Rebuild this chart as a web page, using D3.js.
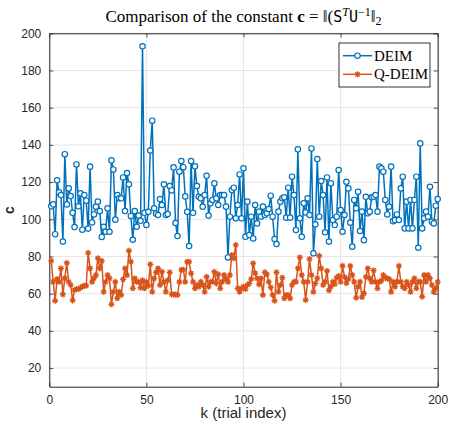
<!DOCTYPE html>
<html>
<head>
<meta charset="utf-8">
<script src="https://cdn.jsdelivr.net/npm/d3@7"></script>
<style>
  body { margin: 0; background: #fff; }
  svg { display: block; }
</style>
</head>
<body>
<svg id="my-svg" width="450" height="424"></svg>
<script>
// trial index k = 1..200
const trialIndex = d3.range(1, 201);

const deimValues = [
  107, 108, 92, 121, 114.5, 113, 88, 135, 108, 116.6, 112.5, 103.5, 95.8, 129.5, 107, 114, 94.4, 113, 110, 95,
  128.3, 98.3, 102.6, 106.8, 109.5, 104.4, 90.5, 96, 93.3, 105.9, 93.3, 131.7, 126.8, 99.8, 113, 111.3, 111.3, 122.5, 104.4, 124.9,
  118.8, 101.8, 89, 104.4, 96, 102, 99.2, 193, 103.5, 97, 104, 137, 153, 105.9, 103, 102.3, 110.9, 107.7, 118.8, 102.3,
  102.8, 117.9, 115.5, 127.9, 98, 91, 125.6, 131.3, 128, 112.3, 104, 85.6, 131.3, 103.5, 128.5, 117.9, 112.1, 111.3, 106.8, 113,
  123.4, 102, 108.6, 110.4, 119.3, 111.3, 107.7, 113, 113, 113, 106.8, 79.5, 101.4, 115.7, 117, 100.5, 107.7, 124.1, 100.5, 127.4,
  90.6, 109.5, 91.5, 101.4, 89.7, 107.7, 97.8, 104.1, 101.4, 106.8, 102.3, 103.2, 105.5, 112.7, 101.4, 89.4, 86.7, 104.1, 109.5, 111.3,
  111.8, 100.9, 117, 100.9, 122.9, 113, 94.2, 137.6, 100.5, 90.6, 108.6, 103.7, 111.3, 102.3, 138.1, 81.7, 97.3, 132.4, 101.4, 120.6,
  113, 93, 122.5, 88, 119.3, 99.6, 96.9, 101.4, 126.5, 105, 93.3, 102.3, 120.2, 116.6, 98.2, 85.3, 110.4, 105.9, 114.8, 93.7,
  104.1, 88.8, 112.1, 103.2, 104.1, 111.8, 112.1, 113, 104.1, 128.3, 127.4, 125.6, 110.4, 102.6, 106.8, 128.3, 99, 99.6, 102.6, 99.6,
  116.6, 122.9, 95.1, 109.5, 95.1, 110.4, 95.1, 110.4, 122.9, 84.7, 140.8, 95.1, 100.5, 104.1, 101.4, 117.5, 98.7, 97.8, 107.3, 110.9
];

const qdeimValues = [
  77.7, 66.4, 56.2, 67.9, 66.4, 73.6, 59.6, 68.2, 76.5, 66.4, 64.7, 56.4, 62, 62.5, 62.5, 63.2, 63.8, 64.3, 64.3, 82,
  73.6, 66.4, 68.2, 70, 79, 73.6, 77.6, 61, 66.4, 70, 68.2, 54.3, 61, 66.4, 57.5, 61, 59.3, 67.7, 73.6, 70,
  83.1, 77.2, 62.9, 68.2, 66.4, 66.4, 63.2, 67.2, 62.9, 66.4, 64.3, 75.8, 61, 68.2, 71.5, 73.6, 64.7, 71.8, 66.4, 61,
  67.2, 71.5, 59.6, 59.6, 59.6, 59.3, 66.4, 72.9, 72.9, 66.4, 77.2, 77.2, 70.9, 66.4, 62.9, 64.7, 63.8, 66.4, 64.7, 61,
  69.1, 63.8, 66.4, 66.4, 71.8, 65.5, 70.4, 62.9, 66.4, 70, 67.9, 66.4, 70, 80.8, 79, 86.2, 62.9, 61, 62.9, 63.8,
  62.5, 64.7, 65.5, 67.9, 76.3, 71.1, 68.2, 65, 68.2, 59.3, 71.5, 70.4, 66.4, 63.4, 59.3, 56.2, 71.5, 61, 64.7, 68.6,
  57.5, 59.3, 59.3, 57.5, 64.7, 66.4, 66.4, 73.6, 79.5, 70, 66.4, 56.6, 66.4, 78.6, 70, 61, 65.5, 68.2, 80.4, 73.6,
  64.7, 66.4, 72.2, 61.8, 63.8, 66.4, 65.2, 68.6, 69.5, 66.4, 75, 69, 65.7, 67.9, 75, 70, 66.4, 57.8, 63.8, 66.4,
  58.2, 60.2, 69, 73.6, 68.2, 66.4, 72.5, 66.4, 62.9, 66.4, 67, 70, 68.6, 68.2, 67.9, 61, 66.4, 63.8, 66.4, 75,
  66.4, 63.8, 62.9, 66.4, 64.7, 61, 66.4, 68.2, 62.9, 66.4, 66.4, 58.4, 70, 66.4, 70, 68.2, 64.7, 61, 62.9, 66.4
];

const xTickValues = [0, 50, 100, 150, 200];
const yTickValues = [20, 40, 60, 80, 100, 120, 140, 160, 180, 200];
const seriesNames = ['DEIM', 'Q-DEIM'];

const svg = d3.select('#my-svg');
const margin = {top: 33.3, right: 12.3, bottom: 37.3, left: 49.3};
const innerWidth = 450 - margin.left - margin.right;
const innerHeight = 424 - margin.top - margin.bottom;

const blue = '#0072BD';
const orange = '#D95319';
const axisColor = '#262626';

const xScale = d3.scaleLinear().domain([0, 200]).range([0, innerWidth]);
const yScale = d3.scaleLinear().domain([10, 200]).range([innerHeight, 0]);

const g = svg.append('g').attr('transform', `translate(${margin.left}, ${margin.top})`);

// grid
g.append('g').selectAll('line').data(xTickValues).enter().append('line')
  .attr('x1', d => xScale(d)).attr('x2', d => xScale(d))
  .attr('y1', 0).attr('y2', innerHeight)
  .attr('stroke', '#e6e6e6').attr('stroke-width', 1);
g.append('g').selectAll('line').data(yTickValues).enter().append('line')
  .attr('x1', 0).attr('x2', innerWidth)
  .attr('y1', d => yScale(d)).attr('y2', d => yScale(d))
  .attr('stroke', '#e6e6e6').attr('stroke-width', 1);

// axes, ticks pointing inward
const xAxis = d3.axisBottom(xScale).tickValues(xTickValues).tickSizeInner(-4).tickSizeOuter(0).tickPadding(9);
const yAxis = d3.axisLeft(yScale).tickValues(yTickValues).tickSizeInner(-4).tickSizeOuter(0).tickPadding(8);
const xTop = d3.axisTop(xScale).tickValues(xTickValues).tickSizeInner(-4).tickSizeOuter(0);
const yRight = d3.axisRight(yScale).tickValues(yTickValues).tickSizeInner(-4).tickSizeOuter(0);

const styleAxis = sel => {
  sel.selectAll('path').attr('stroke', axisColor).attr('stroke-width', 1);
  sel.selectAll('line').attr('stroke', axisColor).attr('stroke-width', 0.8);
  sel.selectAll('text').attr('fill', axisColor)
    .attr('font-family', 'Liberation Sans, Arial, sans-serif').attr('font-size', 12);
};

g.append('g').attr('transform', `translate(0, ${innerHeight})`).call(xAxis).call(styleAxis);
g.append('g').call(yAxis).call(styleAxis);
g.append('g').call(xTop).call(styleAxis).selectAll('text').remove();
g.append('g').attr('transform', `translate(${innerWidth}, 0)`).call(yRight).call(styleAxis).selectAll('text').remove();

// series
const line = d3.line().x((d, i) => xScale(trialIndex[i])).y(d => yScale(d));

g.append('path').datum(deimValues)
  .attr('d', line).attr('fill', 'none').attr('stroke', blue).attr('stroke-width', 1.5);
g.append('g').selectAll('circle').data(deimValues).enter().append('circle')
  .attr('cx', (d, i) => xScale(trialIndex[i])).attr('cy', d => yScale(d))
  .attr('r', 2.7).attr('fill', '#fff').attr('stroke', blue).attr('stroke-width', 1.2);

const asterisk = (r) => {
  const a = r * 0.7071;
  return `M${-r},0L${r},0M0,${-r}L0,${r}M${-a},${-a}L${a},${a}M${-a},${a}L${a},${-a}`;
};

g.append('path').datum(qdeimValues)
  .attr('d', line).attr('fill', 'none').attr('stroke', orange).attr('stroke-width', 1.5);
g.append('g').selectAll('path').data(qdeimValues).enter().append('path')
  .attr('transform', (d, i) => `translate(${xScale(trialIndex[i])}, ${yScale(d)})`)
  .attr('d', asterisk(3)).attr('fill', 'none').attr('stroke', orange).attr('stroke-width', 1.3);

// title
const title = svg.append('text')
  .attr('x', margin.left + innerWidth / 2).attr('y', 22)
  .attr('text-anchor', 'middle')
  .attr('font-family', 'Liberation Serif, serif').attr('font-size', 17).attr('fill', '#000');
title.append('tspan').text('Comparison of the constant ');
title.append('tspan').attr('font-weight', 'bold').text('c');
title.append('tspan').text(' = \u2016(');
title.append('tspan').attr('font-family', 'DejaVu Sans Mono, monospace').attr('font-size', 15).text('S');
title.append('tspan').attr('font-style', 'italic').attr('font-size', 12).attr('dy', -6).text('T');
title.append('tspan').attr('font-family', 'DejaVu Sans Mono, monospace').attr('font-size', 15).attr('dy', 6).text('U');
title.append('tspan').attr('font-size', 12).attr('dy', -6).text('\u22121');
title.append('tspan').attr('dy', 6).text('\u2016');
title.append('tspan').attr('font-size', 12).attr('dy', 3).text('2');

// axis labels
svg.append('text')
  .attr('x', margin.left + innerWidth / 2).attr('y', 418)
  .attr('text-anchor', 'middle')
  .attr('font-family', 'Liberation Sans, Arial, sans-serif').attr('font-size', 15).attr('fill', axisColor)
  .text('k (trial index)');

svg.append('text')
  .attr('transform', `translate(14, ${margin.top + innerHeight / 2}) rotate(-90)`)
  .attr('text-anchor', 'middle')
  .attr('font-family', 'Liberation Sans, Arial, sans-serif').attr('font-size', 14)
  .attr('font-weight', 'bold').attr('fill', axisColor)
  .text('c');

// legend
const legend = svg.append('g').attr('transform', 'translate(339, 43)');
legend.append('rect').attr('width', 91).attr('height', 44)
  .attr('fill', '#fff').attr('stroke', '#000').attr('stroke-width', 0.8);
seriesNames.forEach((name, i) => {
  const y = 12.7 + i * 18.6;
  const color = i === 0 ? blue : orange;
  legend.append('line').attr('x1', 4).attr('x2', 33).attr('y1', y).attr('y2', y)
    .attr('stroke', color).attr('stroke-width', 1.5);
  if (i === 0) {
    legend.append('circle').attr('cx', 18.5).attr('cy', y).attr('r', 2.7)
      .attr('fill', '#fff').attr('stroke', color).attr('stroke-width', 1.2);
  } else {
    legend.append('path').attr('transform', `translate(18.5, ${y})`).attr('d', asterisk(3))
      .attr('fill', 'none').attr('stroke', color).attr('stroke-width', 1.3);
  }
  legend.append('text').attr('x', 35).attr('y', y + 5)
    .attr('font-family', 'Liberation Serif, serif').attr('font-size', 15).attr('fill', '#000')
    .text(name);
});
</script>
</body>
</html>
